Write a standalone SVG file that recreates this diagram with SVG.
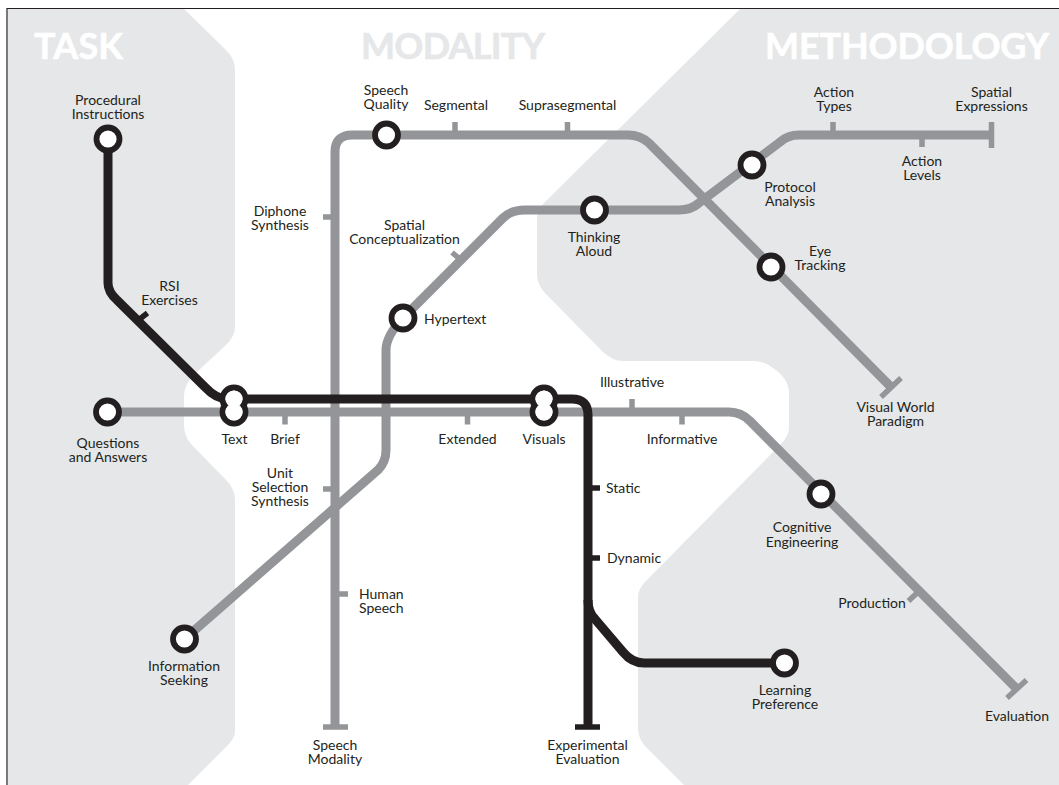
<svg xmlns="http://www.w3.org/2000/svg" width="1059" height="785" viewBox="0 0 1059 785">
<style>
.region{fill:#e6e7e8}
.title{font:bold 36px Lato,"Liberation Sans",sans-serif;stroke-width:.6}
.line{fill:none;stroke-width:9}
.g{stroke:#939598}
.k{stroke:#231f20}
.tick{fill:none;stroke-width:5.5}
.ring{fill:#fff;stroke:#231f20;stroke-width:5.8}
.hole{fill:#fff}
text.l{font:14px Lato,"Liberation Sans",sans-serif;fill:#231f20;text-anchor:middle}
text.s{text-anchor:start}
</style>
<rect width="1059" height="785" fill="#fff"/>
<g id="regions">
<path class="region" d="M8 9H184L226 50Q235 59 235 70V327Q235 336 226 345L199 370Q184 382 184 397V425Q184 436 191 444L226 480Q235 489 235 500V732Q235 738 226 747L188 785H8Z"/>
<path class="region" d="M740 9H1059V785H684L646 747Q638 739 638 728V597Q638 589 646 581L780 445Q789 436 789 428V393Q789 379 773 368Q764 361 753 361H623Q612 361 602 351L544 292Q537 284 537 273V220Q537 209 544 203Z"/>
<path d="M7 785V8.500H1059" fill="none" stroke="#231f20" stroke-width="1.200"/>
<text class="title" x="34" y="59" fill="#fff" stroke="#fff" textLength="89">TASK</text>
<text class="title" x="361" y="59" fill="#e6e7e8" stroke="#e6e7e8" textLength="184">MODALITY</text>
<text class="title" x="765" y="59" fill="#fff" stroke="#fff" textLength="284">METHODOLOGY</text>
</g>
<g id="connectors">
<g class="g">
<path class="line" d="M335 727V152Q335 135 352 135H628Q640 135 649 143L891 387"/>
<path class="line" d="M184.500 639L378 470Q386 462 386 450V350Q386 336 403 318L503 218Q511 210 525 210H679Q691 210 699 203L780 142Q788 135 799 135H991"/>
<path class="line" d="M107 412H729Q741 412 750 421L1017 689"/>
<path class="tick" d="M455 122V135M567.500 122V135M323 217H335M452 252.500L461 260M833 122V135M922 135V147M285 412V424.500M467.500 412V424.500M632 399V412M682 412V424.500M323 489H335M335 594H348M908.500 601L917 593"/>
<path class="tick" stroke-width="6.500" d="M323 727H348M991.500 122V148M901 378L881 397M1026.500 680L1007 698"/>
</g>
<g class="k">
<path class="line" d="M108 139V283Q108 292 117 300L206 388Q216 399 228 399H572Q588 399 588 415V727"/>
<path class="line" d="M588 600Q588 612 595 619L623 652Q632 663 644 663H785"/>
<path class="tick" d="M147.500 313L138.500 320M588 488H600M588 558H600"/>
<path class="tick" stroke-width="6.500" d="M575 727H600"/>
</g>
</g>
<g id="procedural-instructions"><circle class="ring" cx="108" cy="139" r="11.500"/><text class="l" x="108" y="105">Procedural</text><text class="l" x="108" y="119">Instructions</text></g>
<g id="speech-quality"><circle class="ring" cx="386.500" cy="135" r="11.500"/><text class="l" x="386" y="95">Speech</text><text class="l" x="386" y="109">Quality</text></g>
<g id="hypertext"><circle class="ring" cx="403" cy="318" r="11.500"/><text class="l s" x="424" y="324">Hypertext</text></g>
<g id="thinking-aloud"><circle class="ring" cx="594.500" cy="210" r="11.500"/><text class="l" x="594" y="242">Thinking</text><text class="l" x="594" y="256">Aloud</text></g>
<g id="protocol-analysis"><circle class="ring" cx="752" cy="165" r="11.500"/><text class="l" x="790" y="192">Protocol</text><text class="l" x="790" y="206">Analysis</text></g>
<g id="eye-tracking"><circle class="ring" cx="771" cy="267" r="11.500"/><text class="l" x="820" y="256">Eye</text><text class="l" x="820" y="270">Tracking</text></g>
<g id="questions-and-answers"><circle class="ring" cx="107.500" cy="412" r="11.500"/><text class="l" x="108" y="448">Questions</text><text class="l" x="108" y="462">and Answers</text></g>
<g id="text-node"><circle class="ring" cx="234" cy="399" r="11.500"/><circle class="ring" cx="234" cy="412" r="11.500"/><circle class="hole" cx="234" cy="399" r="8.600"/><circle class="hole" cx="234" cy="412" r="8.600"/><text class="l" x="234.500" y="444">Text</text></g>
<g id="visuals"><circle class="ring" cx="544" cy="399" r="11.500"/><circle class="ring" cx="544" cy="412" r="11.500"/><circle class="hole" cx="544" cy="399" r="8.600"/><circle class="hole" cx="544" cy="412" r="8.600"/><text class="l" x="544" y="444">Visuals</text></g>
<g id="cognitive-engineering"><circle class="ring" cx="821" cy="494" r="11.500"/><text class="l" x="802" y="532">Cognitive</text><text class="l" x="802" y="547">Engineering</text></g>
<g id="information-seeking"><circle class="ring" cx="184.500" cy="639" r="11.500"/><text class="l" x="184" y="671">Information</text><text class="l" x="184" y="685">Seeking</text></g>
<g id="learning-preference"><circle class="ring" cx="784.500" cy="663" r="11.500"/><text class="l" x="785" y="695">Learning</text><text class="l" x="785" y="709">Preference</text></g>
<g id="segmental"><text class="l" x="456" y="110">Segmental</text></g>
<g id="suprasegmental"><text class="l" x="567.500" y="110">Suprasegmental</text></g>
<g id="diphone-synthesis"><text class="l" x="280" y="216">Diphone</text><text class="l" x="280" y="230">Synthesis</text></g>
<g id="spatial-conceptualization"><text class="l" x="404.500" y="230">Spatial</text><text class="l" x="404.500" y="244">Conceptualization</text></g>
<g id="rsi-exercises"><text class="l" x="169.500" y="291">RSI</text><text class="l" x="169.500" y="305">Exercises</text></g>
<g id="action-types"><text class="l" x="834" y="97">Action</text><text class="l" x="834" y="111">Types</text></g>
<g id="spatial-expressions"><text class="l" x="991.500" y="97">Spatial</text><text class="l" x="991.500" y="111">Expressions</text></g>
<g id="action-levels"><text class="l" x="922" y="166">Action</text><text class="l" x="922" y="180">Levels</text></g>
<g id="illustrative"><text class="l" x="632" y="387">Illustrative</text></g>
<g id="visual-world-paradigm"><text class="l" x="895.500" y="412">Visual World</text><text class="l" x="895.500" y="426">Paradigm</text></g>
<g id="brief"><text class="l" x="285" y="444">Brief</text></g>
<g id="extended"><text class="l" x="467.500" y="444">Extended</text></g>
<g id="informative"><text class="l" x="682" y="444">Informative</text></g>
<g id="unit-selection-synthesis"><text class="l" x="280" y="478">Unit</text><text class="l" x="280" y="492">Selection</text><text class="l" x="280" y="506">Synthesis</text></g>
<g id="static"><text class="l s" x="606" y="493">Static</text></g>
<g id="dynamic"><text class="l s" x="607" y="563">Dynamic</text></g>
<g id="human-speech"><text class="l s" x="359" y="599">Human</text><text class="l s" x="359" y="613">Speech</text></g>
<g id="speech-modality"><text class="l" x="335" y="750">Speech</text><text class="l" x="335" y="764">Modality</text></g>
<g id="experimental-evaluation"><text class="l" x="587.500" y="750">Experimental</text><text class="l" x="587.500" y="764">Evaluation</text></g>
<g id="production"><text class="l" x="872" y="608">Production</text></g>
<g id="evaluation"><text class="l" x="1017" y="721">Evaluation</text></g>
</svg>
